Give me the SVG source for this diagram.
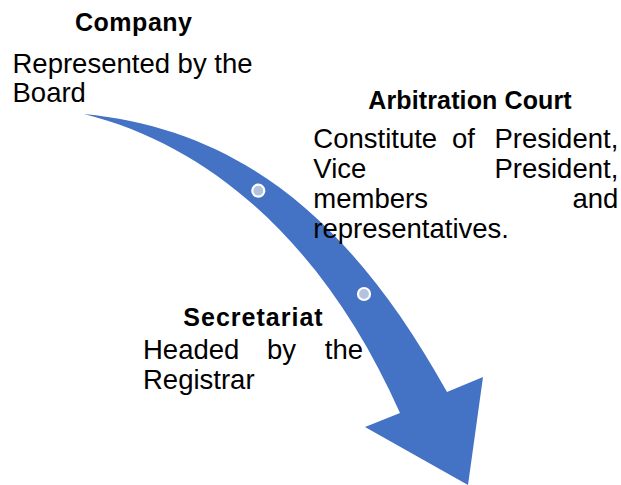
<svg xmlns="http://www.w3.org/2000/svg" width="621" height="485" viewBox="0 0 621 485">
<defs>
<style>
.h{font-family:"Liberation Sans",Arial,sans-serif;font-weight:bold;font-size:25px;fill:#000}
.b{font-family:"Liberation Sans",Arial,sans-serif;font-size:27.5px;fill:#000}
.r{text-anchor:end}
.dot{fill:#B4C2E2;stroke:#fff;stroke-width:2.2}
</style>
</defs>
<rect width="621" height="485" fill="#fff"/>
<g id="connectors">
<path id="arrow" d="M84,114 C234,129 347,212 447,392 L483,377 L468,485 L365,427 L400,413 C330,255 220,148 84,114 Z" fill="#4472C4"/>
<circle class="dot" cx="258.3" cy="190.7" r="6"/>
<circle class="dot" cx="364" cy="294" r="6"/>
</g>
<g id="company">
<text class="h" x="75" y="31" textLength="117" lengthAdjust="spacing">Company</text>
<text class="b" x="12.5" y="72.5">Represented by the</text>
<text class="b" x="12.5" y="101.7">Board</text>
</g>
<g id="arbitration-court">
<text class="h" x="368.3" y="109.3" textLength="203.4" lengthAdjust="spacing">Arbitration Court</text>
<text class="b" x="313.3" y="148.3">Constitute</text>
<text class="b" x="452" y="148.3">of</text>
<text class="b r" x="618.3" y="148.3">President,</text>
<text class="b" x="313.3" y="178.3">Vice</text>
<text class="b r" x="618.3" y="178.3">President,</text>
<text class="b" x="313.3" y="208.3">members</text>
<text class="b r" x="618.3" y="208.3">and</text>
<text class="b" x="313.3" y="238.3">representatives.</text>
</g>
<g id="secretariat">
<text class="h" x="183.3" y="326" textLength="139.4" lengthAdjust="spacing">Secretariat</text>
<text class="b" x="143" y="359.3">Headed</text>
<text class="b" x="267" y="359.3">by</text>
<text class="b r" x="363" y="359.3">the</text>
<text class="b" x="143" y="389.3">Registrar</text>
</g>
</svg>
